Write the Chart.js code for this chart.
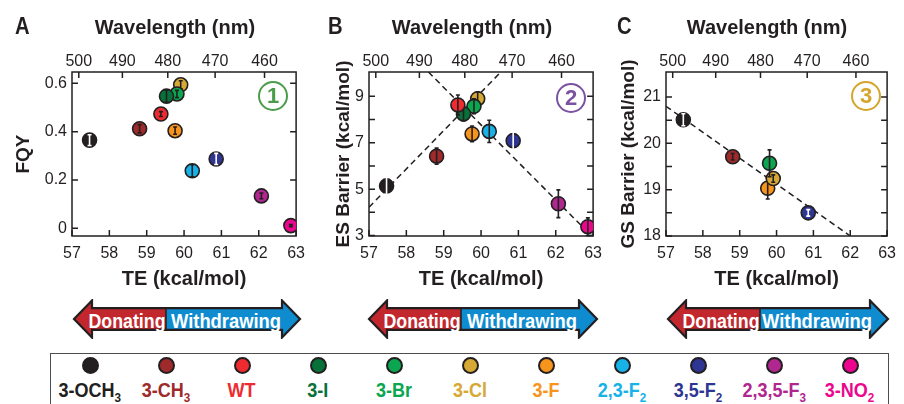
<!DOCTYPE html>
<html>
<head>
<meta charset="utf-8">
<script src="https://cdn.jsdelivr.net/npm/chart.js@4.4.1/dist/chart.umd.min.js"></script>
<style>
  body { margin: 0; background: #fff; }
  #fig { position: relative; width: 904px; height: 404px; overflow: hidden; color: #231f20;
         font-family: "Liberation Sans", Arial, sans-serif; }
  #fig canvas { position: absolute; top: 0; }
  .letter { position: absolute; top: 13px; font-size: 23px; line-height: 26px; font-weight: bold;
            transform: scaleX(0.88); transform-origin: left center; }
  .toptitle { position: absolute; top: 15px; width: 240px; text-align: center; font-weight: bold; font-size: 20px; line-height: 24px; }
  .badge { position: absolute; width: 26px; height: 26px; border: 2.5px solid; border-radius: 50%; text-align: center;
           line-height: 26px; font-weight: bold; font-size: 22px; }
  .arrow { position: absolute; top: 299px; }
  #legend { position: absolute; left: 50px; top: 353px; width: 836px; height: 70px; border: 1.5px solid #4d4d4f;
            display: flex; padding-left: 1px; }
  .item { width: 76px; text-align: center; }
  .dot { width: 13px; height: 13px; border: 2px solid #231f20; border-radius: 50%; margin: 3px auto 0; }
  .lab { font-size: 20px; line-height: 22px; margin-top: 5px; white-space: nowrap; font-weight: bold; }
  .lab span { display: inline-block; transform: scaleX(0.9); transform-origin: center; }
  .lab sub { font-size: 13px; vertical-align: -5px; line-height: 0; }
</style>
</head>
<body>
<div id="fig">
  <canvas id="chartA" width="313" height="292" style="left:0px"></canvas>
  <canvas id="chartB" width="280" height="292" style="left:330px"></canvas>
  <canvas id="chartC" width="289" height="292" style="left:615px"></canvas>
  <div class="letter" style="left:15px">A</div>
  <div class="letter" style="left:328px">B</div>
  <div class="letter" style="left:617px">C</div>
  <div class="toptitle" style="left:55px">Wavelength (nm)</div>
  <div class="toptitle" style="left:352px">Wavelength (nm)</div>
  <div class="toptitle" style="left:647px">Wavelength (nm)</div>
  <div class="badge" style="left:258px; top:81px; color:#4a9c4a; border-color:#4a9c4a">1</div>
  <div class="badge" style="left:556px; top:83px; color:#7a52a0; border-color:#7a52a0">2</div>
  <div class="badge" style="left:851px; top:81px; color:#d4a52a; border-color:#d4a52a">3</div>
  <div id="legend"></div>
</div>
<script>
    const INK = '#231f20';
    const HC = 28591; // nm * kcal/mol, converts transition energy to wavelength

    // compounds, legend order
    const compounds = ['3-OCH3', '3-CH3', 'WT', '3-I', '3-Br', '3-Cl', '3-F', '2,3-F2', '3,5-F2', '2,3,5-F3', '3-NO2'];
    const colors = ['#231f20', '#9e2a2b', '#ed2b30', '#08713a', '#0aa650', '#d6a935', '#f7941d', '#17b2e8', '#2e3592', '#b0278f', '#ec068d'];
    const barInk = ['#ffffff', INK, INK, INK, INK, INK, INK, INK, '#ffffff', INK, INK];

    // transition energy (kcal/mol)
    const te = [57.47, 58.81, 59.38, 59.53, 59.81, 59.91, 59.76, 60.22, 60.86, 62.07, 62.86];

    // panel A: fluorescence quantum yield
    const fqy    = [0.365, 0.412, 0.473, 0.547, 0.556, 0.594, 0.404, 0.238, 0.287, 0.134, 0.011];
    const fqyErr = [0.022, 0.017, 0.010, 0.025, 0.015, 0.017, 0.015, 0.025, 0.023, 0.012, 0.004];

    // panel B: excited state barrier
    const esBarrier = [5.14, 6.42, 8.63, 8.24, 8.57, 8.90, 7.38, 7.49, 7.09, 4.37, 3.38];
    const esErr     = [0.46, 0.35, 0.43, 0.30, 0.32, 0.30, 0.34, 0.48, 0.60, 0.60, 0.38];

    // panel C: ground state barrier (only six compounds)
    const gsBarrier = [20.51, 19.71, null, null, 19.57, 19.24, 19.03, null, 18.50, null, null];
    const gsErr     = [0.13, 0.07, null, null, 0.29, 0.08, 0.23, null, 0.07, null, null];

    // dashed guide lines
    const fitUpX = [57.0, 60.5],    fitUpY = [4.22, 10.0];
    const fitDownX = [58.59, 62.95], fitDownY = [10.05, 3.0];
    const fitGsX = [57.0, 62.0],    fitGsY = [20.8, 18.0];

    // ticks
    const teTicks = [57, 58, 59, 60, 61, 62, 63];
    const wavelengthTicks = [500, 490, 480, 470, 460];
    const yTicksA = [0, 0.2, 0.4, 0.6];
    const yTicksB = [3, 4, 5, 6, 7, 8, 9];
    const yLabelsB = [3, 5, 7, 9];
    const yTicksC = [18, 18.5, 19, 19.5, 20, 20.5, 21];
    const yLabelsC = [18, 19, 20, 21];

    Chart.defaults.font.family = '"Liberation Sans", Arial, sans-serif';
    Chart.defaults.color = INK;

    // frame with inward ticks on all four sides
    const frameTicks = {
        id: 'frameTicks',
        beforeDatasetsDraw(chart) {
            const { ctx, chartArea: a, scales } = chart;
            const len = 6;
            ctx.save();
            ctx.strokeStyle = INK;
            ctx.lineWidth = 1.5;
            ctx.beginPath();
            scales.x.ticks.forEach(t => {
                const px = scales.x.getPixelForValue(t.value);
                ctx.moveTo(px, a.bottom); ctx.lineTo(px, a.bottom - len);
            });
            scales.x2.ticks.forEach(t => {
                const px = scales.x2.getPixelForValue(t.value);
                ctx.moveTo(px, a.top); ctx.lineTo(px, a.top + len);
            });
            scales.y.ticks.forEach(t => {
                const py = scales.y.getPixelForValue(t.value);
                ctx.moveTo(a.left, py); ctx.lineTo(a.left + len, py);
                ctx.moveTo(a.right, py); ctx.lineTo(a.right - len, py);
            });
            ctx.stroke();
            ctx.strokeRect(a.left, a.top, a.right - a.left, a.bottom - a.top);
            ctx.restore();
        }
    };

    // vertical error bars, drawn right after each compound so later circles can cover them
    const errorBars = {
        id: 'errorBars',
        afterDatasetDraw(chart, args) {
            const ds = chart.data.datasets[args.index];
            if (!ds.errors) return;
            const { ctx, scales } = chart;
            ctx.save();
            ctx.strokeStyle = ds.barInk;
            ctx.lineWidth = 1.6;
            ctx.beginPath();
            ds.data.forEach((p, i) => {
                const x = scales.x.getPixelForValue(p.x);
                const y1 = scales.y.getPixelForValue(p.y - ds.errors[i]);
                const y2 = scales.y.getPixelForValue(p.y + ds.errors[i]);
                ctx.moveTo(x, y1); ctx.lineTo(x, y2);
                ctx.moveTo(x - 2, y1); ctx.lineTo(x + 2, y1);
                ctx.moveTo(x - 2, y2); ctx.lineTo(x + 2, y2);
            });
            ctx.stroke();
            ctx.restore();
        }
    };

    function pointSets(yVals, yErr) {
        const sets = [];
        compounds.forEach((name, i) => {
            if (yVals[i] == null) return;
            sets.push({
                label: name,
                data: [{ x: te[i], y: yVals[i] }],
                errors: [yErr[i]],
                barInk: barInk[i],
                pointBackgroundColor: colors[i],
                pointBorderColor: INK,
                pointBorderWidth: 1.6,
                pointRadius: 7,
                showLine: false
            });
        });
        return sets;
    }

    function fitSet(xs, ys) {
        return {
            label: 'fit',
            data: xs.map((x, i) => ({ x: x, y: ys[i] })),
            showLine: true,
            borderColor: INK,
            borderWidth: 1.5,
            borderDash: [6, 4],
            pointRadius: 0,
            fill: false
        };
    }

    function makeScales(yMin, yMax, yTicks, yLabel, yTitle, yWidth) {
        return {
            x: {
                type: 'linear', position: 'bottom', min: 57, max: 63,
                afterBuildTicks: s => { s.ticks = teTicks.map(v => ({ value: v })); },
                afterFit: s => { s.height = 56; },
                ticks: { autoSkip: false, maxRotation: 0, padding: 8, font: { size: 16 }, color: INK },
                grid: { display: false, drawTicks: false },
                border: { display: false },
                title: { display: true, text: 'TE (kcal/mol)', color: INK,
                         font: { size: 20, weight: 'bold' }, padding: { top: 0, bottom: 1 } }
            },
            x2: {
                type: 'linear', position: 'top', min: 57, max: 63,
                afterBuildTicks: s => { s.ticks = wavelengthTicks.map(w => ({ value: HC / w })); },
                afterFit: s => { s.height = 72; },
                ticks: { autoSkip: false, maxRotation: 0, padding: 1, font: { size: 16 }, color: INK,
                         callback: v => Math.round(HC / v) },
                grid: { display: false, drawTicks: false },
                border: { display: false }
            },
            y: {
                type: 'linear', min: yMin, max: yMax,
                afterBuildTicks: s => { s.ticks = yTicks.map(v => ({ value: v })); },
                afterFit: s => { s.width = yWidth; },
                ticks: { autoSkip: false, padding: 5, font: { size: 16 }, color: INK, callback: yLabel },
                grid: { display: false, drawTicks: false },
                border: { display: false },
                title: { display: true, text: yTitle, color: INK,
                         font: { size: 19, weight: 'bold' }, padding: { top: 2, bottom: 0 } }
            }
        };
    }

    function makeChart(id, datasets, scales, padLeft) {
        return new Chart(document.getElementById(id), {
            type: 'scatter',
            data: { datasets: datasets },
            options: {
                responsive: false,
                animation: false,
                events: [],
                layout: { padding: { left: padLeft, right: 12, top: 0, bottom: 0 } },
                scales: scales,
                plugins: { legend: { display: false }, tooltip: { enabled: false } }
            },
            plugins: [frameTicks, errorBars]
        });
    }

    // Panel A
    makeChart('chartA',
        pointSets(fqy, fqyErr),
        makeScales(-0.032, 0.647, yTicksA, v => (v === 0 ? '0' : v.toFixed(1)), 'FQY', 62),
        10);

    // Panel B
    makeChart('chartB',
        pointSets(esBarrier, esErr).concat([fitSet(fitUpX, fitUpY), fitSet(fitDownX, fitDownY)]),
        makeScales(2.98, 10.05, yTicksB, v => (yLabelsB.includes(v) ? String(v) : ''), 'ES Barrier (kcal/mol)', 39),
        0);

    // Panel C
    makeChart('chartC',
        pointSets(gsBarrier, gsErr).concat([fitSet(fitGsX, fitGsY)]),
        makeScales(18, 21.54, yTicksC, v => (yLabelsC.includes(v) ? String(v) : ''), 'GS Barrier (kcal/mol)', 51),
        0);

    // Donating / Withdrawing arrows
    const arrowSpots = [[74, 226], [369, 228], [668, 220]];
    const svgNS = 'http://www.w3.org/2000/svg';
    arrowSpots.forEach(([left, w]) => {
        const h = 40, cy = 20, body = 10.8, head = 18.5, hl = 18, div = 92;
        const svg = document.createElementNS(svgNS, 'svg');
        svg.setAttribute('class', 'arrow');
        svg.setAttribute('width', w + 4);
        svg.setAttribute('height', h);
        svg.style.left = (left - 2) + 'px';
        const g = document.createElementNS(svgNS, 'g');
        g.setAttribute('transform', 'translate(2,0)');
        const poly = (pts, fill, stroke) => {
            const p = document.createElementNS(svgNS, 'polygon');
            p.setAttribute('points', pts.map(q => q.join(',')).join(' '));
            p.setAttribute('fill', fill);
            if (stroke) { p.setAttribute('stroke', stroke); p.setAttribute('stroke-width', 2.2); p.setAttribute('stroke-linejoin', 'miter'); }
            g.appendChild(p);
        };
        poly([[0, cy], [hl, cy - head], [hl, cy - body], [div, cy - body], [div, cy + body], [hl, cy + body], [hl, cy + head]], '#c1272d');
        poly([[div, cy - body], [w - hl, cy - body], [w - hl, cy - head], [w, cy], [w - hl, cy + head], [w - hl, cy + body], [div, cy + body]], '#0f8bd0');
        poly([[0, cy], [hl, cy - head], [hl, cy - body], [w - hl, cy - body], [w - hl, cy - head], [w, cy],
              [w - hl, cy + head], [w - hl, cy + body], [hl, cy + body], [hl, cy + head]], 'none', INK);
        const line = document.createElementNS(svgNS, 'line');
        line.setAttribute('x1', div); line.setAttribute('x2', div);
        line.setAttribute('y1', cy - body); line.setAttribute('y2', cy + body);
        line.setAttribute('stroke', INK); line.setAttribute('stroke-width', 1.5);
        g.appendChild(line);
        const txt = (s, x, len) => {
            const t = document.createElementNS(svgNS, 'text');
            t.setAttribute('x', x); t.setAttribute('y', 28.8);
            t.setAttribute('text-anchor', 'middle');
            t.setAttribute('fill', '#ffffff');
            t.setAttribute('font-family', 'Liberation Sans, Arial, sans-serif');
            t.setAttribute('font-weight', 'bold');
            t.setAttribute('font-size', '21');
            t.setAttribute('textLength', len);
            t.setAttribute('lengthAdjust', 'spacingAndGlyphs');
            t.textContent = s;
            g.appendChild(t);
        };
        txt('Donating', (hl + div) / 2 - 2, 77);
        txt('Withdrawing', (div + w - hl) / 2 + 2, 110);
        svg.appendChild(g);
        document.getElementById('fig').appendChild(svg);
    });

    // legend
    const legend = document.getElementById('legend');
    compounds.forEach((name, i) => {
        const item = document.createElement('div');
        item.className = 'item';
        item.innerHTML = '<div class="dot" style="background:' + colors[i] + '"></div>' +
            '<div class="lab" style="color:' + colors[i] + '"><span>' +
            name.replace(/([A-Z])(\d)/g, '$1<sub>$2</sub>') + '</span></div>';
        legend.appendChild(item);
    });
</script>
</body>
</html>
